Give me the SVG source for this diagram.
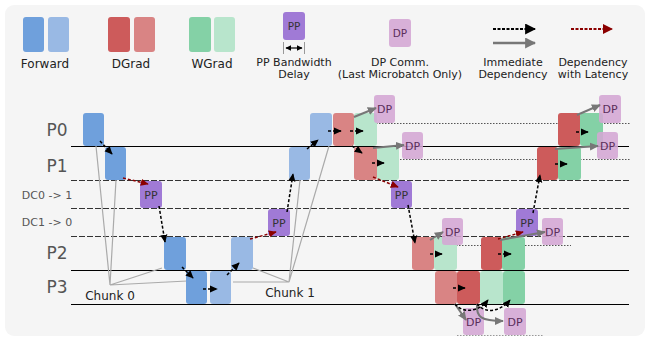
<svg xmlns="http://www.w3.org/2000/svg" width="652" height="339" viewBox="0 0 652 339">
<defs>
<style>
text{font-family:"DejaVu Sans","Liberation Sans",sans-serif;}
.f0{fill:#6fa0dc}.f1{fill:#99b9e4}
.d0{fill:#cd5b5b}.d1{fill:#d98484}
.w0{fill:#84d1a6}.w1{fill:#b8e5cc}
.pp{fill:#a07ad6}
.dp{fill:#d4a6d4;fill-opacity:0.88}
.ppt{font-size:11px;fill:#333;text-anchor:middle}
.dpt{font-size:11px;fill:#5a2d5a;text-anchor:middle}
.row{font-size:17px;fill:#555;text-anchor:middle}
.dc{font-size:11px;fill:#555;text-anchor:middle}
.leg{font-size:12px;fill:#222;text-anchor:middle}
.leg2{font-size:11px;fill:#222;text-anchor:middle}
.solid{stroke:#000;stroke-width:1.2}
.dash{stroke:#333;stroke-width:1.2;stroke-dasharray:6 2}
.dot{stroke:#555;stroke-width:1.2;stroke-dasharray:1.5 1.5}
.chunk{stroke:#aaa;stroke-width:1.2;fill:none}
.ab{stroke:#000;stroke-width:1.5;stroke-dasharray:3 2;fill:none;marker-end:url(#mb)}
.ag{stroke:#777;stroke-width:2;fill:none;marker-end:url(#mg)}
.ar{stroke:#8b0000;stroke-width:1.5;stroke-dasharray:3 2;fill:none;marker-end:url(#mr)}
</style>
<marker id="mb" viewBox="0 0 10 10" refX="9" refY="5" markerWidth="8" markerHeight="8" markerUnits="userSpaceOnUse" orient="auto"><path d="M0,0.5 L10,5 L0,9.5 z" fill="#000"/></marker>
<marker id="mg" viewBox="0 0 10 10" refX="9" refY="5" markerWidth="9" markerHeight="9" markerUnits="userSpaceOnUse" orient="auto"><path d="M0,0.5 L10,5 L0,9.5 z" fill="#777"/></marker>
<marker id="mr" viewBox="0 0 10 10" refX="9" refY="5" markerWidth="8" markerHeight="8" markerUnits="userSpaceOnUse" orient="auto"><path d="M0,0.5 L10,5 L0,9.5 z" fill="#8b0000"/></marker>
<marker id="mbL" viewBox="0 0 10 10" refX="9" refY="5" markerWidth="11" markerHeight="11" markerUnits="userSpaceOnUse" orient="auto"><path d="M0,0 L10,5 L0,10 z" fill="#000"/></marker>
<marker id="mgL" viewBox="0 0 10 10" refX="9" refY="5" markerWidth="11" markerHeight="11" markerUnits="userSpaceOnUse" orient="auto"><path d="M0,0 L10,5 L0,10 z" fill="#777"/></marker>
<marker id="mrL" viewBox="0 0 10 10" refX="9" refY="5" markerWidth="10" markerHeight="10" markerUnits="userSpaceOnUse" orient="auto"><path d="M0,0 L10,5 L0,10 z" fill="#8b0000"/></marker>
<marker id="mbS" viewBox="0 0 10 10" refX="9" refY="5" markerWidth="6" markerHeight="6" markerUnits="userSpaceOnUse" orient="auto-start-reverse"><path d="M0,0 L10,5 L0,10 z" fill="#000"/></marker>
</defs>

<rect x="5" y="5" width="640" height="331" rx="9" fill="#f5f5f5"/>

<g id="legend">
<g id="leg-forward"><rect x="23" y="17" width="21" height="35" rx="3" class="f0"/><rect x="48" y="17" width="21" height="35" rx="3" class="f1"/><text x="45" y="68" class="leg">Forward</text></g>
<g id="leg-dgrad"><rect x="108" y="17" width="22" height="35" rx="3" class="d0"/><rect x="134" y="17" width="21" height="35" rx="3" class="d1"/><text x="131" y="68" class="leg">DGrad</text></g>
<g id="leg-wgrad"><rect x="189" y="17" width="22" height="35" rx="3" class="w0"/><rect x="214" y="17" width="21" height="35" rx="3" class="w1"/><text x="212" y="68" class="leg">WGrad</text></g>
<g id="leg-pp"><rect x="283" y="12" width="22" height="28" rx="3" class="pp"/><text x="294" y="30" class="ppt" style="font-size:10.5px">PP</text>
<line x1="283.5" y1="42" x2="283.5" y2="54" stroke="#999" stroke-width="1"/><line x1="304.5" y1="42" x2="304.5" y2="54" stroke="#999" stroke-width="1"/>
<line x1="286" y1="48" x2="302" y2="48" stroke="#000" stroke-width="1.2" marker-start="url(#mbS)" marker-end="url(#mbS)"/>
<text x="294" y="66" class="leg2">PP Bandwidth</text><text x="294" y="77.5" class="leg2">Delay</text></g>
<g id="leg-dp"><rect x="389" y="19" width="22" height="28" rx="3" class="dp"/><text x="400" y="37" class="dpt" style="font-size:10.5px">DP</text>
<text x="400" y="66" class="leg2">DP Comm.</text><text x="400" y="77.5" class="leg2">(Last Microbatch Only)</text></g>
<g id="leg-imm"><line x1="493" y1="29" x2="535" y2="29" stroke="#000" stroke-width="2" stroke-dasharray="3 1.5" marker-end="url(#mbL)"/>
<line x1="493" y1="43" x2="535" y2="43" stroke="#777" stroke-width="2.5" marker-end="url(#mgL)"/>
<text x="513" y="66" class="leg2">Immediate</text><text x="513" y="77.5" class="leg2">Dependency</text></g>
<g id="leg-lat"><line x1="571" y1="29" x2="612" y2="29" stroke="#8b0000" stroke-width="2" stroke-dasharray="3 1.5" marker-end="url(#mrL)"/>
<text x="593" y="66" class="leg2">Dependency</text><text x="593" y="77.5" class="leg2">with Latency</text></g>
</g>

<g id="rows">
<text x="57" y="136" class="row">P0</text>
<text x="57" y="172" class="row">P1</text>
<text x="47" y="199" class="dc">DC0 -&gt; 1</text>
<text x="47" y="226" class="dc">DC1 -&gt; 0</text>
<text x="57" y="259" class="row">P2</text>
<text x="57" y="293" class="row">P3</text>
<line x1="71" y1="146.5" x2="629" y2="146.5" class="solid"/>
<line x1="71" y1="180.5" x2="629" y2="180.5" class="dash"/>
<line x1="71" y1="208.5" x2="629" y2="208.5" class="dash"/>
<line x1="71" y1="236.5" x2="629" y2="236.5" class="dash"/>
<line x1="71" y1="270.5" x2="629" y2="270.5" class="solid"/>
<line x1="71" y1="304.5" x2="629" y2="304.5" class="solid"/>
<line x1="367" y1="123.5" x2="630" y2="123.5" class="dot"/>
<line x1="397" y1="159.5" x2="630" y2="159.5" class="dot"/>
<line x1="438" y1="245.5" x2="571" y2="245.5" class="dot"/>
<line x1="457" y1="335.5" x2="543" y2="335.5" class="dot" style="stroke:#999"/>
</g>

<g id="chunk-labels">
<path d="M96,146 L110,285 L116,180 M110,285 L162,268 M110,285 L187,281" class="chunk"/>
<path d="M300,180 L289,282 L329,146 M289,282 L253,268 M289,282 L233,282" class="chunk"/>
<text x="110" y="300" class="leg">Chunk 0</text>
<text x="290" y="297" class="leg">Chunk 1</text>
</g>

<g id="fwd-c0">
<rect id="f0p0" x="83" y="113" width="21" height="33" rx="3" class="f0"/>
<rect id="f0p1" x="105" y="147" width="21" height="33" rx="3" class="f0"/>
<rect id="f0p2" x="164" y="237" width="22" height="33" rx="3" class="f0"/>
<rect id="f0p3" x="186" y="271" width="21" height="33" rx="3" class="f0"/>
</g>
<g id="fwd-c1">
<rect id="f1p3" x="210" y="271" width="21" height="33" rx="3" class="f1"/>
<rect id="f1p2" x="231" y="237" width="22" height="33" rx="3" class="f1"/>
<rect id="f1p1" x="289" y="147" width="21" height="33" rx="3" class="f1"/>
<rect id="f1p0" x="310" y="113" width="22" height="33" rx="3" class="f1"/>
</g>
<g id="pp-nodes">
<g id="pp1"><rect x="140" y="181" width="22" height="27" rx="3" class="pp"/><text x="151" y="198.5" class="ppt">PP</text></g>
<g id="pp2"><rect x="268" y="209" width="22" height="27" rx="3" class="pp"/><text x="279" y="226.5" class="ppt">PP</text></g>
<g id="pp3"><rect x="391" y="181" width="21" height="27" rx="3" class="pp"/><text x="401.5" y="198.5" class="ppt">PP</text></g>
<g id="pp4"><rect x="516" y="209" width="22" height="27" rx="3" class="pp"/><text x="527" y="226.5" class="ppt">PP</text></g>
</g>
<g id="bwd-c1">
<rect id="b1p0d" x="333" y="113" width="21" height="33" rx="3" class="d1"/>
<rect id="b1p0w" x="354" y="113" width="23" height="33" rx="3" class="w1"/>
<rect id="b1p1d" x="354" y="147" width="23" height="33" rx="3" class="d1"/>
<rect id="b1p1w" x="377" y="147" width="22" height="33" rx="3" class="w1"/>
<rect id="b1p2d" x="412" y="237" width="22" height="33" rx="3" class="d1"/>
<rect id="b1p2w" x="434" y="237" width="23" height="33" rx="3" class="w1"/>
<rect id="b1p3d" x="435" y="271" width="22" height="33" rx="3" class="d1"/>
<rect id="b1p3w" x="480" y="271" width="23" height="33" rx="3" class="w1"/>
</g>
<g id="bwd-c0">
<rect id="b0p3d" x="457" y="271" width="23" height="33" rx="3" class="d0"/>
<rect id="b0p3w" x="503" y="271" width="22" height="33" rx="3" class="w0"/>
<rect id="b0p2d" x="481" y="237" width="21" height="33" rx="3" class="d0"/>
<rect id="b0p2w" x="502" y="237" width="23" height="33" rx="3" class="w0"/>
<rect id="b0p1d" x="537" y="147" width="21" height="33" rx="3" class="d0"/>
<rect id="b0p1w" x="558" y="147" width="23" height="33" rx="3" class="w0"/>
<rect id="b0p0d" x="558" y="113" width="22" height="33" rx="3" class="d0"/>
<rect id="b0p0w" x="580" y="113" width="23" height="33" rx="3" class="w0"/>
</g>
<g id="dp-nodes">
<g id="dp1"><rect x="374" y="95" width="21" height="28" rx="3" class="dp"/><text x="384.5" y="113" class="dpt">DP</text></g>
<g id="dp2"><rect x="402" y="132" width="21" height="27" rx="3" class="dp"/><text x="412.5" y="149.5" class="dpt">DP</text></g>
<g id="dp3"><rect x="442" y="218" width="21" height="27" rx="3" class="dp"/><text x="452.5" y="235.5" class="dpt">DP</text></g>
<g id="dp4"><rect x="463" y="308" width="21" height="27" rx="3" class="dp"/><text x="473.5" y="325.5" class="dpt">DP</text></g>
<g id="dp5"><rect x="504" y="308" width="22" height="27" rx="3" class="dp"/><text x="515" y="325.5" class="dpt">DP</text></g>
<g id="dp6"><rect x="542" y="218" width="21" height="27" rx="3" class="dp"/><text x="552.5" y="235.5" class="dpt">DP</text></g>
<g id="dp7"><rect x="597" y="132" width="21" height="27" rx="3" class="dp"/><text x="607.5" y="149.5" class="dpt">DP</text></g>
<g id="dp8"><rect x="599" y="95" width="22" height="28" rx="3" class="dp"/><text x="610" y="113" class="dpt">DP</text></g>
</g>

<g id="connectors">
<path d="M100,141 L112,154" class="ab"/>
<path d="M123,178 L148,184" class="ar"/>
<path d="M159,206 L165,242" class="ab"/>
<path d="M182,267 L193,278" class="ab"/>
<path d="M203,289 L217,289" class="ab"/>
<path d="M227,275 L239,263" class="ab"/>
<path d="M250,239 L276,232" class="ar"/>
<path d="M287,212 L293,174" class="ab"/>
<path d="M307,149 L318,140" class="ab"/>
<path d="M328,131 L341,131" class="ab"/>
<path d="M350,131 L363,131" class="ab"/>
<path d="M354,117 L376,108" class="ag"/>
<path d="M352,146 L362,153" class="ab"/>
<path d="M372,163 L384,163" class="ab"/>
<path d="M373,148 L404,145" class="ag"/>
<path d="M373,177 L398,187" class="ar"/>
<path d="M408,205 L415,243" class="ab"/>
<path d="M430,254 L442,254" class="ab"/>
<path d="M430,240 L443,232" class="ag"/>
<path d="M453,288 L465,288" class="ab"/>
<path d="M455,304 L466,320" class="ag"/>
<path d="M477,304 C476,317 481,321 503,321" class="ag"/>
<path d="M455,304 C462,313 478,313 488,300" class="ab"/>
<path d="M477,304 C485,314 500,312 510,300" class="ab"/>
<path d="M498,239 L523,232" class="ar"/>
<path d="M500,240 L545,232" class="ag"/>
<path d="M498,254 L511,254" class="ab"/>
<path d="M533,213 L540,175" class="ab"/>
<path d="M555,164 L567,164" class="ab"/>
<path d="M555,149 L598,146" class="ag"/>
<path d="M576,132 L588,132" class="ab"/>
<path d="M577,115 L600,105" class="ag"/>
</g>
</svg>
